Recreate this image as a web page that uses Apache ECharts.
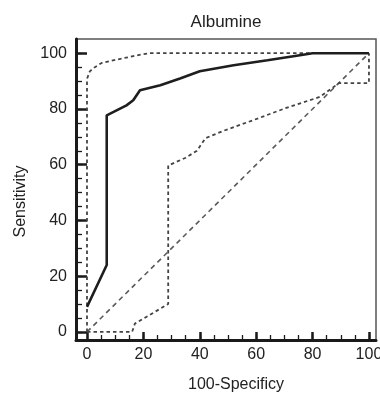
<!DOCTYPE html>
<html>
<head>
<meta charset="utf-8">
<script src="https://cdn.jsdelivr.net/npm/echarts@6/dist/echarts.min.js"></script>
<style>
html,body{margin:0;padding:0;background:#fff;}
#chart{width:380px;height:396px;}
</style>
</head>
<body>
<div id="chart"></div>
<script>
// ---- data ----
const titleText = 'Albumine';
const xName = '100-Specificy';
const yName = 'Sensitivity';
const majorTicks = [0, 20, 40, 60, 80, 100];
const minorTicks = [0,5,10,15,20,25,30,35,40,45,50,55,60,65,70,75,80,85,90,95,100];

// ROC curve (100-Specificity, Sensitivity)
const rocX = [0, 7, 7, 10.5, 14, 16.4, 18.8, 26, 33, 40, 52, 64, 75.5, 80, 100];
const rocY = [9, 24, 77.7, 79.5, 81.3, 83.1, 86.7, 88.5, 90.9, 93.5, 95.7, 97.5, 99.3, 100, 100];

// upper confidence bound
const upX = [0, 0, 1, 2.8, 5.2, 10.5, 17.6, 22, 80, 100];
const upY = [0, 90.8, 93.5, 95, 96.5, 97.7, 99.2, 100, 100, 100];

// lower confidence bound
const loX = [0, 16, 17, 28.8, 28.8, 35, 39, 42, 48, 59, 71, 82.5, 89.4, 100, 100];
const loY = [0, 0, 3, 10, 59.7, 62.5, 65, 69.5, 72, 76, 80.5, 84.3, 89.3, 89.3, 100];

// reference diagonal
const diagX = [0, 100];
const diagY = [0, 100];

const pairs = (xs, ys) => xs.map((v, i) => [v, ys[i]]);

const FONT = 'Liberation Sans, Arial, sans-serif';
const chart = echarts.init(document.getElementById('chart'), null, {renderer: 'canvas'});

const axisMin = { x: -3.9, y: -2.9 };
const axisMax = { x: 102.5, y: 105.1 };

chart.setOption({
  animation: false,
  backgroundColor: '#fff',
  title: {
    text: titleText,
    left: 226,
    textAlign: 'center',
    top: 14,
    padding: 0,
    textStyle: { fontFamily: FONT, fontSize: 17, fontWeight: 'normal', color: '#222' }
  },
  grid: {
    left: 76, right: 4, top: 39, bottom: 56,
    show: true, borderColor: '#555', borderWidth: 1.5,
    outerBoundsMode: 'none'
  },
  xAxis: [
    {
      type: 'value', min: axisMin.x, max: axisMax.x, position: 'bottom',
      axisLine: { onZero: false, lineStyle: { color: '#1a1a1a', width: 3 } },
      axisTick: { inside: true, length: 8, customValues: majorTicks, lineStyle: { color: '#1a1a1a', width: 2.5 } },
      axisLabel: { customValues: majorTicks, fontFamily: FONT, fontSize: 16, color: '#222', margin: 7 },
      splitLine: { show: false },
      name: xName, nameLocation: 'middle', nameGap: 37,
      nameTextStyle: { fontFamily: FONT, fontSize: 16, color: '#222', padding: [0, 0, 0, 20] }
    },
    {
      type: 'value', min: axisMin.x, max: axisMax.x, position: 'bottom',
      axisLine: { show: false, onZero: false },
      axisTick: { inside: true, length: 5, customValues: minorTicks, lineStyle: { color: '#1a1a1a', width: 1.3 } },
      axisLabel: { show: false },
      splitLine: { show: false }
    }
  ],
  yAxis: [
    {
      type: 'value', min: axisMin.y, max: axisMax.y, position: 'left',
      axisLine: { onZero: false, lineStyle: { color: '#1a1a1a', width: 3 } },
      axisTick: { inside: true, length: 11, customValues: majorTicks, lineStyle: { color: '#1a1a1a', width: 2.5 } },
      axisLabel: { customValues: majorTicks, fontFamily: FONT, fontSize: 16, color: '#222', margin: 9 },
      splitLine: { show: false },
      name: yName, nameLocation: 'middle', nameGap: 47,
      nameTextStyle: { fontFamily: FONT, fontSize: 16, color: '#222', padding: [0, 24, 0, 0] }
    },
    {
      type: 'value', min: axisMin.y, max: axisMax.y, position: 'left',
      axisLine: { show: false, onZero: false },
      axisTick: { inside: true, length: 6, customValues: minorTicks, lineStyle: { color: '#1a1a1a', width: 1.3 } },
      axisLabel: { show: false },
      splitLine: { show: false }
    }
  ],
  series: [
    {
      name: 'diagonal', type: 'line', xAxisIndex: 0, yAxisIndex: 0,
      data: pairs(diagX, diagY), symbol: 'none', silent: true,
      lineStyle: { color: '#5a5a5a', width: 1.6, type: [5, 4] }
    },
    {
      name: 'upper', type: 'line', xAxisIndex: 0, yAxisIndex: 0,
      data: pairs(upX, upY), symbol: 'none', silent: true,
      lineStyle: { color: '#444', width: 1.8, type: [3.5, 3] }
    },
    {
      name: 'lower', type: 'line', xAxisIndex: 0, yAxisIndex: 0,
      data: pairs(loX, loY), symbol: 'none', silent: true,
      lineStyle: { color: '#444', width: 1.8, type: [3.5, 3] }
    },
    {
      name: 'roc', type: 'line', xAxisIndex: 0, yAxisIndex: 0,
      data: pairs(rocX, rocY), symbol: 'none', silent: true,
      lineStyle: { color: '#1e1e1e', width: 2.6 }
    }
  ]
});
</script>
</body>
</html>
